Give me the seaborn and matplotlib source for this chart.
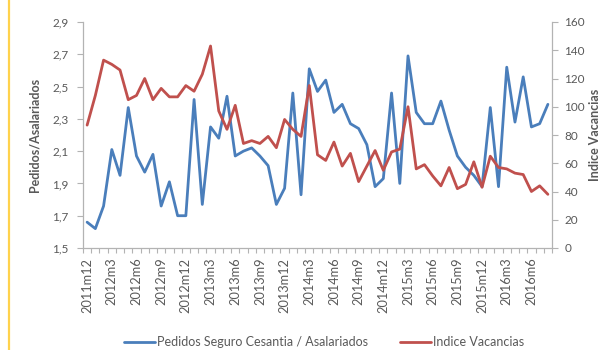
import matplotlib
matplotlib.use("Agg")
import matplotlib.pyplot as plt
from matplotlib.ticker import FixedLocator, FuncFormatter
import seaborn as sns
import pandas as pd

# Monthly series, 2011m12 .. 2016m8
months = [f"{p.year}m{p.month}" for p in pd.period_range("2011-12", periods=57, freq="M")]

pedidos_asalariados = [
    1.66, 1.62, 1.76, 2.11, 1.95, 2.37, 2.07, 1.97, 2.08, 1.76,
    1.91, 1.70, 1.70, 2.42, 1.77, 2.25, 2.18, 2.44, 2.07, 2.10,
    2.12, 2.07, 2.01, 1.77, 1.87, 2.46, 1.83, 2.61, 2.47, 2.54,
    2.34, 2.39, 2.27, 2.24, 2.14, 1.88, 1.93, 2.46, 1.90, 2.69,
    2.34, 2.27, 2.27, 2.41, 2.23, 2.07, 2.00, 1.95, 1.88, 2.37,
    1.88, 2.62, 2.28, 2.56, 2.25, 2.27, 2.39,
]

indice_vacancias = [
    87, 108, 133, 130, 126, 105, 108, 120, 105, 113,
    107, 107, 115, 111, 123, 143, 97, 84, 101, 74,
    76, 74, 79, 71, 91, 84, 79, 115, 66, 62,
    75, 58, 67, 47, 58, 69, 55, 68, 70, 100,
    56, 59, 51, 44, 57, 42, 45, 61, 43, 65,
    57, 56, 53, 52, 40, 44, 38,
]

label_step = 3
left_ticks = [1.5, 1.7, 1.9, 2.1, 2.3, 2.5, 2.7, 2.9]
right_ticks = [0, 20, 40, 60, 80, 100, 120, 140, 160]

blue = "#4a7ebb"
red = "#c0504d"
axis_grey = "#b3b3b3"
text_grey = "#595959"

sns.set_style("white")
plt.rcParams["font.family"] = ["Lato", "DejaVu Sans"]

df = pd.DataFrame({
    "pos": range(len(months)),
    "mes": months,
    "pedidos": pedidos_asalariados,
    "vacancias": indice_vacancias,
})

fig = plt.figure(figsize=(6.04, 3.50), dpi=100)
fig.patch.set_facecolor("white")
ax = fig.add_axes([83 / 604, 1 - 248 / 350, (552 - 83) / 604, (248 - 22) / 350])
ax2 = ax.twinx()

sns.lineplot(data=df, x="pos", y="pedidos", ax=ax, color=blue, linewidth=2.0,
             label="Pedidos Seguro Cesantia / Asalariados", legend=False)
sns.lineplot(data=df, x="pos", y="vacancias", ax=ax2, color=red, linewidth=2.0,
             label="Indice Vacancias", legend=False)

ax.set_xlim(-0.5, len(months) - 0.5)
ax.set_ylim(left_ticks[0], left_ticks[-1])
ax2.set_ylim(right_ticks[0], right_ticks[-1])

# category axis: labels every 3 months, small marks between categories
ax.xaxis.set_major_locator(FixedLocator(list(range(0, len(months), label_step))))
ax.set_xticklabels(months[::label_step], rotation=90, fontsize=9.2, color=text_grey)
ax.xaxis.set_minor_locator(FixedLocator([i - 0.5 for i in range(len(months) + 1)]))
ax.tick_params(axis="x", which="major", length=0, pad=7)
ax.tick_params(axis="x", which="minor", length=3.5, width=0.8, color=axis_grey, bottom=True)

ax.set_yticks(left_ticks)
ax.yaxis.set_major_formatter(FuncFormatter(lambda v, _: f"{v:.1f}".replace(".", ",")))
ax.tick_params(axis="y", length=4.5, width=0.8, color=axis_grey, labelsize=8.5,
               labelcolor=text_grey, pad=6, left=True)
ax2.set_yticks(right_ticks)
ax2.tick_params(axis="y", length=4, width=0.8, color=axis_grey, labelsize=8.5,
                labelcolor=text_grey, pad=5, right=True)

for a in (ax, ax2):
    a.set_xlabel("")
    a.spines["top"].set_visible(False)
    for side in ("left", "right", "bottom"):
        a.spines[side].set_color(axis_grey)
        a.spines[side].set_linewidth(0.9)
ax.spines["right"].set_visible(False)
ax2.spines["left"].set_visible(False)
ax2.spines["bottom"].set_visible(False)

ax.set_ylabel("Pedidos/Asalariados", fontsize=9, fontweight="bold", color=text_grey, labelpad=8)
ax2.set_ylabel("Indice Vacancias", fontsize=9, fontweight="bold", color=text_grey, rotation=90)
ax2.yaxis.set_label_coords((589 - 83) / 469, 0.5)

handles = ax.get_lines()[:1] + ax2.get_lines()[:1]
fig.legend(handles, [h.get_label() for h in handles], loc="center",
           bbox_to_anchor=(324 / 604, 1 - 342 / 350), ncol=2, frameon=False,
           fontsize=9, labelcolor=text_grey, handlelength=2.5, handletextpad=0.15,
           columnspacing=2.6)

# thin frame line along the left page edge
fig.add_artist(plt.Line2D([9 / 604, 9 / 604], [0, 1], color="#ffd24d", linewidth=1.6,
                          transform=fig.transFigure))

fig.savefig("out.png", dpi=100)
